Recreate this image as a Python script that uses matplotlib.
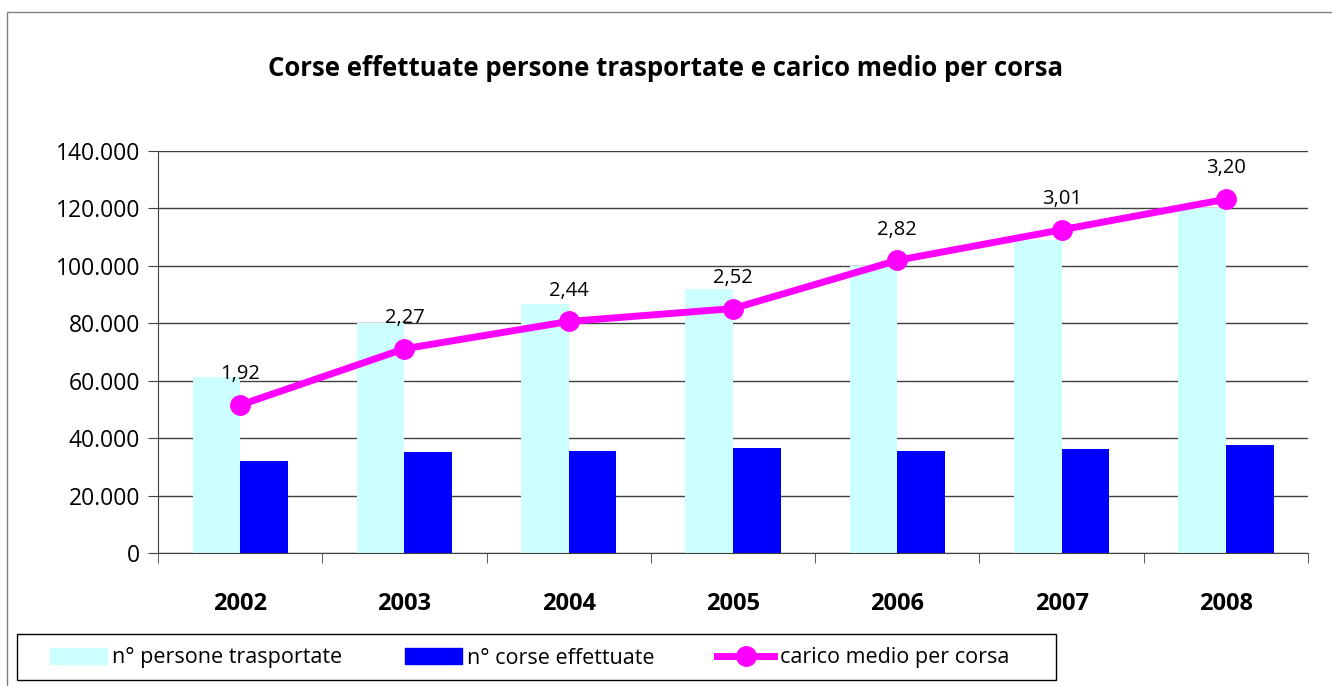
import matplotlib.pyplot as plt
import numpy as np
from matplotlib.patches import Rectangle
from matplotlib.lines import Line2D
from matplotlib.ticker import FuncFormatter

anni = ['2002', '2003', '2004', '2005', '2006', '2007', '2008']
persone = [61300, 80100, 86700, 92000, 100100, 109000, 120300]
corse = [32000, 35200, 35500, 36600, 35500, 36200, 37600]
carico = [1.92, 2.27, 2.44, 2.52, 2.82, 3.01, 3.20]
carico_lbl = ['1,92', '2,27', '2,44', '2,52', '2,82', '3,01', '3,20']

plt.rcParams['font.family'] = ['Open Sans', 'DejaVu Sans']

fig = plt.figure(figsize=(13.32, 6.86), dpi=100)
ax = fig.add_axes([158/1332, 1 - 553/686, 1150/1332, 402/686])

x = np.arange(len(anni))
w = 0.29
ax.bar(x - w/2, persone, w, color='#CCFFFF', zorder=2)
ax.bar(x + w/2, corse, w, color='#0000FF', zorder=2)

ax.set_xlim(-0.5, len(anni) - 0.5)
ax.set_ylim(0, 140000)
ax.set_yticks(np.arange(0, 140001, 20000))
ax.yaxis.set_major_formatter(FuncFormatter(lambda v, p: f'{int(v):,}'.replace(',', '.')))
ax.grid(axis='y', color='#404040', linewidth=1, zorder=0)
ax.set_axisbelow(True)
ax.set_xticks(x)
ax.set_xticklabels(anni, fontweight='bold', fontsize=17)
ax.set_xticks(np.arange(-0.5, len(anni)), minor=True)
ax.tick_params(axis='x', which='major', length=0, pad=28)
ax.tick_params(axis='x', which='minor', length=7, color='#404040')
ax.tick_params(axis='y', labelsize=16.5, length=7, color='#404040', pad=6)
for s in ['top', 'right']:
    ax.spines[s].set_visible(False)
for s in ['left', 'bottom']:
    ax.spines[s].set_color('#404040')

ax2 = ax.twinx()
ax2.set_ylim(1, 3.5)
ax2.plot(x, carico, color='#FF00FF', linewidth=5, marker='o', markersize=14, zorder=5)
ax2.axis('off')
for xi, v, t in zip(x, carico, carico_lbl):
    ax2.annotate(t, (xi, v), xytext=(0, 15), textcoords='offset points',
                 ha='center', va='bottom', fontsize=14.5)

fig.text(0.5, 1 - 68/686, 'Corse effettuate persone trasportate e carico medio per corsa',
         ha='center', va='center', fontsize=18.5, fontweight='bold')

# cornice esterna
fig.patches.append(Rectangle((7/1332, -0.01), 1.02, 1 - 12/686 + 0.01, transform=fig.transFigure,
                             fill=False, edgecolor='#808080', linewidth=1))
# cornice legenda
fig.patches.append(Rectangle((17/1332, 1 - 680/686), 1039/1332, 46/686, transform=fig.transFigure,
                             fill=False, edgecolor='black', linewidth=1))

handles = [Rectangle((0, 0), 1, 1, color='#CCFFFF'),
           Rectangle((0, 0), 1, 1, color='#0000FF'),
           Line2D([], [], color='#FF00FF', linewidth=5, marker='o', markersize=14)]
labels = ['n° persone trasportate', 'n° corse effettuate', 'carico medio per corsa']
leg = fig.legend(handles, labels, loc='center left', bbox_to_anchor=(50/1332, 1 - 658/686),
                 ncol=3, fontsize=15.5, frameon=False, handlelength=2.65,
                 handletextpad=0.25, columnspacing=2.9, borderpad=0, borderaxespad=0)

fig.savefig('out.png', dpi=100)
